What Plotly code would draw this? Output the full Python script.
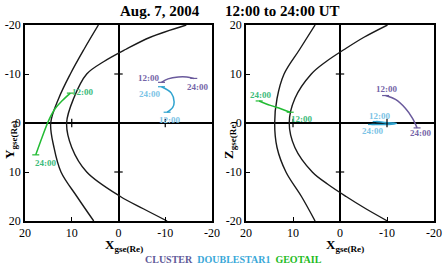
import plotly.graph_objects as go

# ---------------- data ----------------
tick_vals = [-20, -10, 0, 10, 20]
tick_text = ["-20", "-10", "0", "10", "20"]

# Left panel (X-Y): bow shock and magnetopause
bs_xy_y = [-20, -15, -10, -5, 0, 5, 10, 15, 20]
bs_xy_x = [4.3, 7.4, 10.3, 12.8, 14.5, 13.8, 12.3, 8.9, 5.3]
mp_xy_y = [-20, -17.5, -15, -12.5, -10, -5, 0, 5, 10, 15, 17.5, 20]
mp_xy_x = [-14.5, -6.8, -1.5, 3.2, 6.8, 9.6, 11.1, 10.0, 6.8, -0.4, -5.3, -10.4]

# Right panel (X-Z)
bs_xz_z = [20, 15, 10, 5, 0, -5, -10, -15, -20]
bs_xz_x = [5.3, 8.6, 11.9, 13.4, 13.9, 13.4, 11.5, 8.2, 5.3]
mp_xz_z = [20, 17.5, 15, 12.5, 10, 5, 0, -5, -10, -12.5, -15, -17.5, -20]
mp_xz_x = [-10.1, -5.1, -0.9, 3.0, 6.1, 9.6, 10.8, 9.6, 5.9, 2.6, -1.3, -5.5, -10.1]

# Spacecraft tracks, 12:00 -> 24:00
geo_x_xy = [10.3, 12.0, 13.5, 14.9, 16.3, 17.7]
geo_y_xy = [-6.1, -4.6, -3.0, -0.6, 2.8, 6.5]
clu_x_xy = [-9.2, -10.6, -12.8, -14.6, -16.1]
clu_y_xy = [-8.3, -9.0, -9.4, -9.4, -9.1]
ds_x_xy = [-10.4, -11.6, -11.9, -11.3, -9.2]
ds_y_xy = [-2.2, -3.2, -4.3, -6.1, -7.4]

geo_x_xz = [10.6, 12.6, 14.8, 17.2]
geo_z_xz = [2.2, 2.9, 3.6, 4.5]
clu_x_xz = [-9.7, -11.8, -13.9, -15.4, -16.4]
clu_z_xz = [5.6, 4.8, 3.0, 1.0, -1.0]
ds_x_xz = [-7.7, -9.5, -11.2, -12.0, -11.0, -9.0, -6.7]
ds_z_xz = [0.3, 0.1, 0.0, -0.1, -0.25, -0.3, -0.3]

# time labels: (text, x, y, colour key)
labels_xy = [("12:00", 7.7, -6.3, "geo"), ("24:00", 15.6, 8.2, "geo"),
             ("12:00", -6.4, -9.2, "clu"), ("24:00", -17.0, -7.4, "clu"),
             ("24:00", -6.7, -5.9, "ds"), ("12:00", -11.0, -0.6, "ds")]
labels_xz = [("24:00", 17.0, 5.7, "geo"), ("12:00", 8.1, 0.8, "geo"),
             ("12:00", -9.9, 6.9, "clu"), ("24:00", -17.2, -2.1, "clu"),
             ("12:00", -8.4, 1.5, "ds"), ("24:00", -7.0, -1.6, "ds")]

legend_names = ["CLUSTER", "DOUBLESTAR1", "GEOTAIL"]

line_col = {"geo": "#22bb33", "clu": "#6a5a9c", "ds": "#2fa3cf"}
lab_col = {"geo": "#3dbb7a", "clu": "#7565a8", "ds": "#7cc4e6"}
legend_cols = ["#5f5a99", "#3aa8d8", "#22bb22"]

FONT = "Liberation Serif"
W, H = 444, 267

fig = go.Figure()


def add_panel(xa, ya, bsx, bsy, mpx, mpy, tracks, labels):
    for cx, cy in ((bsx, bsy), (mpx, mpy)):
        fig.add_trace(go.Scatter(x=cx, y=cy, mode="lines", xaxis=xa, yaxis=ya,
                                 line=dict(color="#1a1a1a", width=1.4, shape="spline", smoothing=1.0),
                                 showlegend=False, hoverinfo="skip"))
    for key, tx, ty in tracks:
        fig.add_trace(go.Scatter(x=tx, y=ty, mode="lines", xaxis=xa, yaxis=ya,
                                 line=dict(color=line_col[key], width=1.5, shape="spline"),
                                 showlegend=False, hoverinfo="skip"))
        fig.add_trace(go.Scatter(x=[tx[0], tx[-1]], y=[ty[0], ty[-1]], mode="markers",
                                 xaxis=xa, yaxis=ya,
                                 marker=dict(symbol="line-ew", size=5,
                                             line=dict(color=line_col[key], width=1.2)),
                                 showlegend=False, hoverinfo="skip"))
    # small ticks on the zero axes
    tv = [v for v in tick_vals if v not in (0, -20, 20)]
    fig.add_trace(go.Scatter(x=[0] * len(tv), y=tv, mode="markers", xaxis=xa, yaxis=ya,
                             marker=dict(symbol="line-ew", size=6, line=dict(color="black", width=1.2)),
                             showlegend=False, hoverinfo="skip"))
    fig.add_trace(go.Scatter(x=tv, y=[0] * len(tv), mode="markers", xaxis=xa, yaxis=ya,
                             marker=dict(symbol="line-ns", size=6, line=dict(color="black", width=1.2)),
                             showlegend=False, hoverinfo="skip"))
    for txt, lx, ly, key in labels:
        fig.add_annotation(x=lx, y=ly, xref=xa, yref=ya, text="<b>" + txt + "</b>", showarrow=False,
                           xanchor="center", yanchor="middle",
                           font=dict(family=FONT, size=9, color=lab_col[key]))


add_panel("x", "y", bs_xy_x, bs_xy_y, mp_xy_x, mp_xy_y,
          [("geo", geo_x_xy, geo_y_xy), ("clu", clu_x_xy, clu_y_xy), ("ds", ds_x_xy, ds_y_xy)], labels_xy)
add_panel("x2", "y2", bs_xz_x, bs_xz_z, mp_xz_x, mp_xz_z,
          [("geo", geo_x_xz, geo_z_xz), ("clu", clu_x_xz, clu_z_xz), ("ds", ds_x_xz, ds_z_xz)], labels_xz)

axis_common = dict(tickvals=tick_vals, ticktext=tick_text, showgrid=False, automargin=False,
                   showline=True, mirror=True, linecolor="black", linewidth=1.5,
                   ticks="inside", ticklen=4, tickcolor="black", tickwidth=1.2,
                   zeroline=True, zerolinecolor="black", zerolinewidth=1.5,
                   tickfont=dict(family=FONT, size=12, color="black"), fixedrange=True)

ydom = [1 - 221 / H, 1 - 25 / H]
fig.update_layout(
    width=W, height=H, autosize=False, margin=dict(l=0, r=0, t=0, b=0, pad=0),
    paper_bgcolor="white", plot_bgcolor="white", showlegend=False,
    xaxis=dict(axis_common, range=[20, -20], domain=[25 / W, 212 / W], anchor="y"),
    yaxis=dict(axis_common, range=[20, -20], domain=ydom, anchor="x"),
    xaxis2=dict(axis_common, range=[20, -20], domain=[246 / W, 434 / W], anchor="y2"),
    yaxis2=dict(axis_common, range=[-20, 20], domain=ydom, anchor="x2"),
)


def bold(t):
    return "<b>" + t + "</b>"


def paper_note(px, py, text, size, **kw):
    fig.add_annotation(x=px / W, y=1 - py / H, xref="paper", yref="paper",
                       xanchor=kw.pop("xanchor", "center"), yanchor="middle",
                       text=text, showarrow=False,
                       font=dict(family=FONT, size=size, color="black"), **kw)


# title
paper_note(118, 11, bold("Aug. 7, 2004"), 15, xanchor="left")
paper_note(223, 11, bold("12:00 to 24:00 UT"), 15, xanchor="left")

# axis titles
for xc, t in ((124, "X"), (345, "X")):
    paper_note(xc, 245, bold(t + "<sub>gse(Re)</sub>"), 13)
for xc, t in ((10, "Y"), (229, "Z")):
    paper_note(xc, 140, bold(t + "<sub>gse(Re)</sub>"), 13, textangle=-90)

# legend text
leg = "&nbsp;&nbsp;".join('<span style="color:%s">%s</span>' % (c, n)
                          for n, c in zip(legend_names, legend_cols))
paper_note(233, 259, bold(leg), 10)

fig.write_html("out.html")
